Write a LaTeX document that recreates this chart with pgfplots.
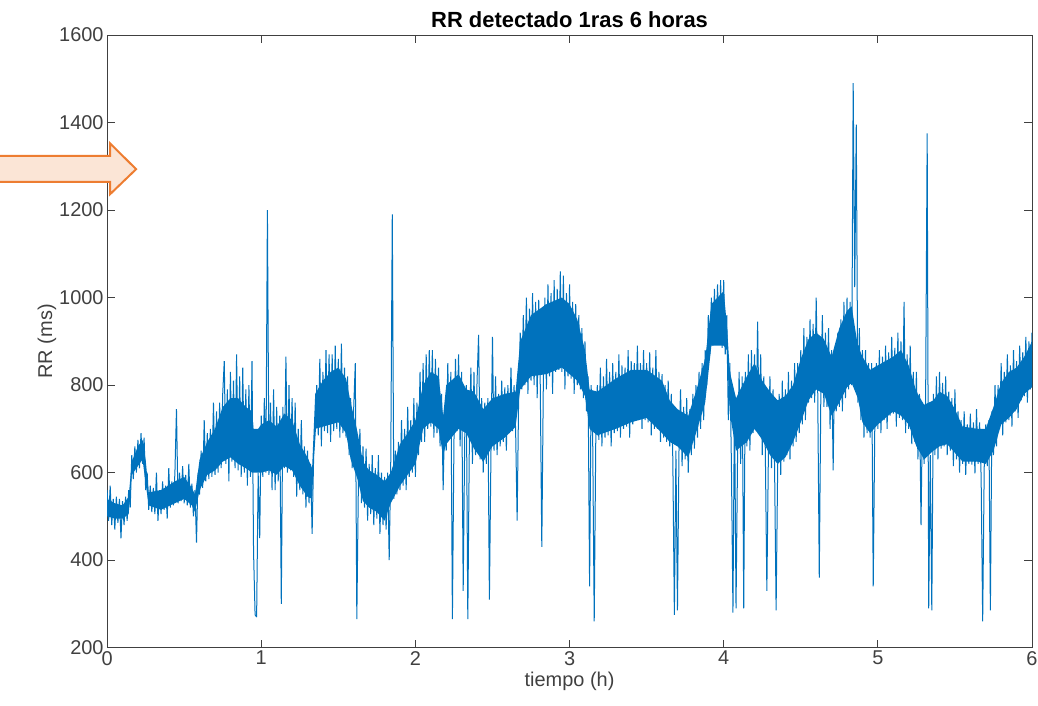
\documentclass[border=0pt]{standalone}
\usepackage{fontspec}
\setmainfont{Liberation Sans}
\usepackage{pgfplots}
\pgfplotsset{compat=1.18}
\definecolor{mlblue}{RGB}{0,114,189}
\definecolor{axgray}{RGB}{64,64,64}
\definecolor{arrowor}{RGB}{237,125,49}
\definecolor{arrowfill}{RGB}{251,229,214}
\begin{document}
\begin{tikzpicture}
\begin{axis}[
  scale only axis,
  width=924bp, height=612bp,
  xmin=0, xmax=6, ymin=200, ymax=1600,
  xtick={0,1,2,3,4,5,6},
  ytick={200,400,600,800,1000,1200,1400,1600},
  tick align=inside,
  major tick length=8bp,
  axis line style={axgray, line width=1bp},
  every tick/.style={axgray, line width=1bp},
  tick label style={font=\fontsize{20}{24}\selectfont, text=axgray},
  /pgf/number format/assume math mode=true,
  /pgf/number format/1000 sep={},
  xlabel={tiempo (h)},
  ylabel={RR (ms)},
  ylabel style={yshift=-4bp},
  label style={font=\fontsize{20}{24}\selectfont, text=axgray},
  title={RR detectado 1ras 6 horas},
  title style={font=\fontsize{22}{26}\selectfont\bfseries, yshift=-2bp},
  clip=true,
]
% dense core of the RR band (upper edge left to right, lower edge right to left)
\addplot[fill=mlblue, draw=none, forget plot] table {
x y
0.00 540
0.05 530
0.10 525
0.14 545
0.16 625
0.20 660
0.23 675
0.25 630
0.27 555
0.35 560
0.44 580
0.50 590
0.55 565
0.57 550
0.60 630
0.65 670
0.70 700
0.75 750
0.80 770
0.85 770
0.90 750
0.94 740
0.95 700
0.98 700
1.00 710
1.05 720
1.10 705
1.15 735
1.20 720
1.25 665
1.30 635
1.33 610
1.35 780
1.40 810
1.45 830
1.50 840
1.55 815
1.58 760
1.62 700
1.66 625
1.70 605
1.75 595
1.80 580
1.84 600
1.90 665
1.95 690
2.00 720
2.05 800
2.10 830
2.15 820
2.18 730
2.20 800
2.28 825
2.33 790
2.38 785
2.44 745
2.50 770
2.58 780
2.65 785
2.68 900
2.75 960
2.85 985
2.95 1000
3.00 985
3.05 950
3.10 880
3.13 790
3.18 785
3.30 815
3.40 835
3.50 835
3.60 810
3.65 765
3.70 745
3.77 730
3.82 785
3.88 860
3.92 985
4.00 1015
4.02 940
4.04 830
4.08 770
4.15 820
4.20 850
4.25 810
4.30 785
4.35 765
4.40 775
4.45 800
4.50 860
4.55 905
4.60 920
4.65 905
4.70 865
4.75 930
4.80 970
4.83 980
4.87 890
4.90 865
4.95 835
5.00 845
5.10 865
5.15 880
5.20 845
5.25 785
5.30 755
5.36 765
5.40 785
5.45 775
5.50 745
5.55 705
5.65 700
5.70 700
5.75 750
5.80 805
5.85 830
5.90 840
5.95 865
6.00 900
6.00 795
5.95 780
5.90 745
5.85 725
5.80 710
5.75 650
5.70 620
5.65 625
5.55 625
5.50 645
5.45 665
5.40 660
5.36 650
5.30 630
5.25 660
5.20 710
5.15 730
5.10 740
5.00 710
4.95 690
4.90 715
4.87 770
4.83 805
4.80 795
4.75 760
4.70 730
4.65 780
4.60 790
4.55 765
4.50 715
4.45 670
4.40 635
4.35 620
4.30 640
4.25 675
4.20 700
4.15 670
4.08 650
4.04 735
4.02 880
4.00 890
3.92 890
3.88 760
3.82 690
3.77 635
3.70 660
3.65 670
3.60 690
3.50 725
3.40 715
3.30 700
3.18 685
3.13 700
3.10 775
3.05 810
3.00 825
2.95 840
2.85 825
2.75 820
2.68 790
2.65 705
2.58 680
2.50 660
2.44 625
2.38 655
2.33 690
2.28 700
2.20 665
2.18 640
2.15 700
2.10 715
2.05 700
2.00 620
1.95 595
1.90 570
1.84 530
1.80 490
1.75 510
1.70 520
1.66 535
1.62 590
1.58 630
1.55 690
1.50 715
1.45 710
1.40 705
1.35 700
1.33 540
1.30 545
1.25 570
1.20 605
1.15 615
1.10 595
1.05 605
1.00 600
0.98 600
0.95 600
0.94 600
0.90 610
0.85 620
0.80 635
0.75 625
0.70 605
0.65 595
0.60 560
0.57 510
0.55 525
0.50 540
0.44 530
0.35 515
0.27 525
0.25 575
0.23 630
0.20 615
0.16 595
0.14 505
0.10 495
0.05 495
0.00 500
0.00 540
};
% RR series: band extremes and isolated beats
\addplot[color=mlblue, line width=1bp, line join=bevel] table {
x y
0.00 560
0.01 490
0.02 570
0.03 480
0.04 540
0.05 470
0.06 545
0.07 485
0.08 540
0.09 450
0.10 535
0.11 480
0.12 545
0.13 490
0.14 560
0.15 520
0.16 640
0.17 585
0.18 660
0.19 600
0.20 675
0.21 610
0.22 690
0.23 620
0.24 680
0.25 560
0.26 600
0.27 515
0.28 570
0.29 510
0.30 565
0.31 505
0.32 600
0.33 490
0.34 560
0.35 505
0.36 580
0.37 515
0.38 570
0.39 495
0.40 610
0.41 520
0.42 580
0.43 525
0.44 600
0.45 745
0.46 530
0.47 600
0.48 535
0.49 615
0.50 530
0.51 595
0.52 525
0.53 620
0.54 520
0.55 575
0.56 500
0.57 560
0.58 440
0.59 600
0.60 550
0.61 650
0.62 565
0.63 720
0.64 580
0.65 690
0.66 585
0.67 700
0.68 590
0.69 760
0.70 595
0.71 740
0.72 600
0.73 760
0.74 610
0.75 780
0.76 855
0.77 620
0.78 790
0.79 580
0.80 830
0.81 625
0.82 810
0.83 610
0.84 870
0.85 605
0.86 820
0.87 590
0.88 840
0.89 600
0.90 790
0.91 570
0.92 800
0.93 590
0.94 855
0.95 420
0.96 275
0.97 270
0.98 600
0.99 450
1.00 730
1.01 590
1.02 770
1.03 600
1.04 1200
1.05 595
1.06 760
1.07 560
1.08 790
1.09 560
1.10 750
1.11 580
1.12 730
1.13 300
1.14 750
1.15 610
1.16 865
1.17 600
1.18 800
1.19 605
1.20 770
1.21 590
1.22 760
1.23 545
1.24 700
1.25 560
1.26 720
1.27 550
1.28 660
1.29 520
1.30 650
1.31 530
1.32 620
1.33 460
1.34 640
1.35 690
1.36 800
1.37 685
1.38 860
1.39 660
1.40 830
1.41 695
1.42 880
1.43 690
1.44 870
1.45 670
1.46 870
1.47 695
1.48 890
1.49 700
1.50 860
1.51 680
1.52 895
1.53 690
1.54 840
1.55 680
1.56 820
1.57 640
1.58 770
1.59 610
1.60 750
1.61 850
1.62 265
1.63 570
1.64 700
1.65 530
1.66 660
1.67 520
1.68 655
1.69 490
1.70 620
1.71 505
1.72 640
1.73 480
1.74 610
1.75 495
1.76 640
1.77 460
1.78 600
1.79 480
1.80 590
1.81 470
1.82 600
1.83 400
1.84 620
1.85 1190
1.86 540
1.87 650
1.88 550
1.89 670
1.90 560
1.91 720
1.92 570
1.93 700
1.94 560
1.95 750
1.96 590
1.97 720
1.98 600
1.99 770
2.00 590
2.01 760
2.02 640
2.03 830
2.04 670
2.05 850
2.06 670
2.07 870
2.08 700
2.09 880
2.10 705
2.11 880
2.12 680
2.13 860
2.14 690
2.15 840
2.16 660
2.17 780
2.18 560
2.19 740
2.20 650
2.21 850
2.22 680
2.23 830
2.24 265
2.25 670
2.26 860
2.27 695
2.28 870
2.29 660
2.30 830
2.31 330
2.32 680
2.33 800
2.34 265
2.35 670
2.36 840
2.37 620
2.38 830
2.39 640
2.40 810
2.41 915
2.42 630
2.43 770
2.44 600
2.45 760
2.46 620
2.47 770
2.48 310
2.49 640
2.50 910
2.51 650
2.52 820
2.53 640
2.54 780
2.55 660
2.56 810
2.57 670
2.58 795
2.59 650
2.60 800
2.61 690
2.62 840
2.63 695
2.64 800
2.65 700
2.66 490
2.67 780
2.68 920
2.69 790
2.70 960
2.71 800
2.72 1000
2.73 780
2.74 975
2.75 810
2.76 1010
2.77 800
2.78 990
2.79 770
2.80 995
2.81 800
2.82 430
2.83 810
2.84 1000
2.85 790
2.86 1030
2.87 820
2.88 1010
2.89 780
2.90 1040
2.91 830
2.92 1020
2.93 835
2.94 1060
2.95 830
2.96 1050
2.97 790
2.98 1010
2.99 820
3.00 1030
3.01 815
3.02 990
3.03 780
3.04 985
3.05 800
3.06 960
3.07 790
3.08 930
3.09 770
3.10 900
3.11 740
3.12 820
3.13 340
3.14 800
3.15 680
3.16 260
3.17 670
3.18 800
3.19 675
3.20 840
3.21 660
3.22 820
3.23 680
3.24 860
3.25 685
3.26 830
3.27 660
3.28 850
3.29 690
3.30 830
3.31 695
3.32 870
3.33 680
3.34 845
3.35 700
3.36 840
3.37 705
3.38 880
3.39 680
3.40 855
3.41 710
3.42 850
3.43 720
3.44 890
3.45 720
3.46 850
3.47 700
3.48 880
3.49 720
3.50 850
3.51 715
3.52 875
3.53 685
3.54 840
3.55 700
3.56 880
3.57 700
3.58 830
3.59 670
3.60 825
3.61 680
3.62 800
3.63 670
3.64 810
3.65 660
3.66 780
3.67 630
3.68 275
3.69 650
3.70 285
3.71 650
3.72 790
3.73 615
3.74 750
3.75 630
3.76 770
3.77 600
3.78 745
3.79 640
3.80 780
3.81 655
3.82 800
3.83 680
3.84 830
3.85 700
3.86 850
3.87 720
3.88 880
3.89 800
3.90 960
3.91 870
3.92 1000
3.93 890
3.94 1020
3.95 900
3.96 1030
3.97 895
3.98 1040
3.99 885
4.00 1040
4.01 870
4.02 960
4.03 720
4.04 850
4.05 620
4.06 280
4.07 780
4.08 290
4.09 640
4.10 830
4.11 620
4.12 820
4.13 290
4.14 830
4.15 660
4.16 870
4.17 650
4.18 880
4.19 690
4.20 870
4.21 695
4.22 945
4.23 690
4.24 870
4.25 640
4.26 820
4.27 650
4.28 330
4.29 645
4.30 820
4.31 610
4.32 790
4.33 615
4.34 285
4.35 610
4.36 780
4.37 595
4.38 810
4.39 625
4.40 790
4.41 640
4.42 830
4.43 630
4.44 810
4.45 660
4.46 850
4.47 670
4.48 850
4.49 690
4.50 880
4.51 710
4.52 930
4.53 720
4.54 910
4.55 760
4.56 950
4.57 770
4.58 940
4.59 760
4.60 1000
4.61 785
4.62 360
4.63 775
4.64 960
4.65 750
4.66 920
4.67 750
4.68 930
4.69 700
4.70 880
4.71 605
4.72 880
4.73 740
4.74 920
4.75 750
4.76 950
4.77 740
4.78 990
4.79 770
4.80 1000
4.81 790
4.82 990
4.83 800
4.84 1490
4.85 1024
4.86 1395
4.87 760
4.88 930
4.89 720
4.90 880
4.91 680
4.92 880
4.93 690
4.94 850
4.95 680
4.96 850
4.97 340
4.98 700
4.99 850
5.00 700
5.01 880
5.02 690
5.03 865
5.04 720
5.05 890
5.06 700
5.07 875
5.08 730
5.09 910
5.10 735
5.11 885
5.12 705
5.13 920
5.14 725
5.15 900
5.16 720
5.17 990
5.18 690
5.19 870
5.20 700
5.21 890
5.22 665
5.23 830
5.24 670
5.25 830
5.26 630
5.27 780
5.28 480
5.29 760
5.30 620
5.31 770
5.32 1375
5.33 290
5.34 640
5.35 285
5.36 780
5.37 640
5.38 820
5.39 630
5.40 830
5.41 655
5.42 805
5.43 660
5.44 820
5.45 640
5.46 785
5.47 650
5.48 770
5.49 615
5.50 790
5.51 630
5.52 740
5.53 600
5.54 720
5.55 620
5.56 740
5.57 595
5.58 710
5.59 620
5.60 735
5.61 618
5.62 715
5.63 598
5.64 745
5.65 620
5.66 715
5.67 590
5.68 260
5.69 612
5.70 710
5.71 615
5.72 720
5.73 285
5.74 740
5.75 640
5.76 800
5.77 660
5.78 800
5.79 700
5.80 850
5.81 685
5.82 830
5.83 715
5.84 870
5.85 720
5.86 845
5.87 705
5.88 880
5.89 740
5.90 855
5.91 725
5.92 890
5.93 765
5.94 875
5.95 775
5.96 910
5.97 760
5.98 900
5.99 790
6.00 920
};
\end{axis}
\draw[arrowor, line width=2bp, fill=arrowfill, line join=miter]
  ([xshift=-112bp,yshift=-120.7bp]current axis.north west)
  -- ([xshift=3bp,yshift=-120.7bp]current axis.north west)
  -- ([xshift=3bp,yshift=-108.3bp]current axis.north west)
  -- ([xshift=29bp,yshift=-134bp]current axis.north west)
  -- ([xshift=3bp,yshift=-159bp]current axis.north west)
  -- ([xshift=3bp,yshift=-146.7bp]current axis.north west)
  -- ([xshift=-112bp,yshift=-146.7bp]current axis.north west)
  -- cycle;
\pgfresetboundingbox
\useasboundingbox ([xshift=-107bp,yshift=-58bp]current axis.south west)
  rectangle ([xshift=6bp,yshift=35bp]current axis.north east);
\end{tikzpicture}
\end{document}
